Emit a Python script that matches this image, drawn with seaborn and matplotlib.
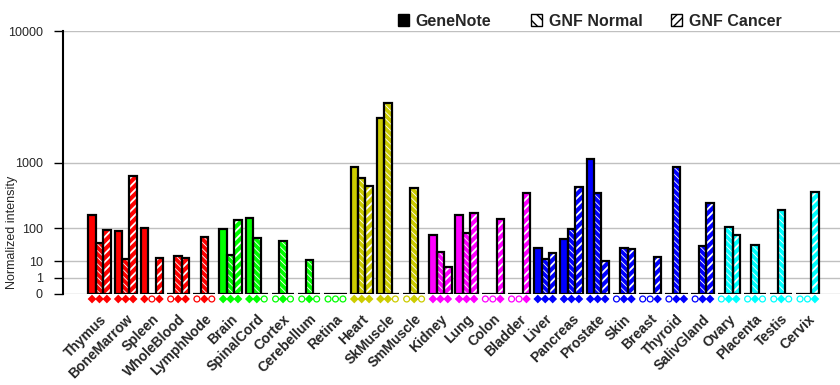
import numpy as np
import pandas as pd
import matplotlib
matplotlib.use("Agg")
import matplotlib.pyplot as plt
import matplotlib.transforms as mtransforms
from matplotlib.patches import Patch, Rectangle
import seaborn as sns

# ---- data ----
tissues = ["Thymus", "BoneMarrow", "Spleen", "WholeBlood", "LymphNode",
           "Brain", "SpinalCord", "Cortex", "Cerebellum", "Retina",
           "Heart", "SkMuscle", "SmMuscle",
           "Kidney", "Lung", "Colon", "Bladder",
           "Liver", "Pancreas", "Prostate", "Skin", "Breast", "Thyroid", "SalivGland",
           "Ovary", "Placenta", "Testis", "Cervix"]
system = (["blood"] * 5 + ["neural"] * 5 + ["muscle"] * 3 + ["visceral"] * 4
          + ["glandular"] * 7 + ["reproductive"] * 4)
series_names = ["GeneNote", "GNF Normal", "GNF Cancer"]

genenote = [184, 88, 101, 0, 0, 95, 162, 0, 0, 0, 893, 2630, 0, 69, 186, 0, 0,
            31.5, 55, 1087, 0, 0, 0, 0, 0, 0, 0, 0]
gnf_normal = [42, 12, 0, 16, 62, 18, 58, 49, 11.4, 0, 661, 3450, 482, 23, 80, 0, 0,
              12, 95, 419, 31.5, 0, 893, 35.5, 107, 38, 225, 0]
gnf_cancer = [92, 701, 13.7, 14, 0, 148, 0, 0, 0, 0, 522, 0, 0, 5.5, 198, 153, 419,
              20.6, 507, 10.6, 28, 15.4, 0, 297, 70, 0, 0, 429]

# present (1) / absent (0) calls shown as markers under the bars
genenote_call = [1, 1, 1, 0, 0, 1, 1, 0, 0, 0, 1, 1, 0, 1, 1, 0, 0,
                 1, 1, 1, 0, 0, 0, 0, 0, 0, 0, 0]
normal_call = [1, 1, 0, 1, 1, 1, 1, 1, 1, 0, 1, 1, 1, 1, 1, 0, 0,
               1, 1, 1, 1, 0, 1, 1, 1, 1, 1, 0]
cancer_call = [1, 1, 1, 1, 0, 1, 0, 0, 0, 0, 1, 0, 0, 1, 1, 1, 1,
               1, 1, 1, 1, 1, 1, 1, 1, 0, 0, 1]

yticks = [0, 1, 10, 100, 1000, 10000]

palette = {"blood": "#ff0000", "neural": "#00ff00", "muscle": "#cccc00",
           "visceral": "#ff00ff", "glandular": "#0000ff", "reproductive": "#00ffff"}

sns.set_style("white")
plt.rcParams["font.family"] = ["Liberation Sans", "DejaVu Sans"]
plt.rcParams["hatch.linewidth"] = 1.0

df = pd.DataFrame({
    "tissue": np.tile(tissues, 3),
    "series": np.repeat(series_names, len(tissues)),
    "value": np.concatenate([genenote, gnf_normal, gnf_cancer]),
})
calls = [genenote_call, normal_call, cancer_call]

fig = plt.figure(figsize=(8.4, 3.85), dpi=100)
ax = fig.add_axes([63 / 840, 1 - 294 / 385, 777 / 840, 263 / 385])

sns.barplot(data=df, x="tissue", y="value", hue="series", order=tissues,
            hue_order=series_names, width=0.85, gap=0, dodge=True, legend=False,
            errorbar=None, saturation=1, linewidth=0, ax=ax)

# power scale: each decade above 1 doubles in height
expo = np.log10(2)
ax.set_yscale("function", functions=(lambda v: np.sign(v) * np.abs(v) ** expo,
                                     lambda v: np.sign(v) * np.abs(v) ** (1 / expo)))
ax.set_ylim(0, 10000)
ax.set_xlim(-1.39, 28.24)

marker_tr = mtransforms.blended_transform_factory(ax.transData, ax.transAxes)
fill_x, fill_c, open_x, open_c = [], [], [], []
for p in list(ax.patches):
    w = p.get_width()
    xc = p.get_x() + w / 2
    cat = int(round(xc))
    slot = int(round((xc - cat) / w)) + 1
    col = palette[system[cat]]
    p.set_facecolor(col)
    p.set_linewidth(0)
    if slot == 1:
        p.set_edgecolor("white")
        p.set_hatch("\\" * 5)
        if hasattr(p, "set_hatch_linewidth"):
            p.set_hatch_linewidth(0.6)
    elif slot == 2:
        p.set_edgecolor("white")
        p.set_hatch("////")
        if hasattr(p, "set_hatch_linewidth"):
            p.set_hatch_linewidth(1.3)
    ax.add_patch(Rectangle((p.get_x(), p.get_y()), w, p.get_height(), fill=False,
                           edgecolor="black", linewidth=1.6, zorder=3))
    if calls[slot][cat]:
        fill_x.append(xc)
        fill_c.append(col)
    else:
        open_x.append(xc)
        open_c.append(col)

ax.scatter(fill_x, [-0.019] * len(fill_x), s=20, marker="D", c=fill_c,
           linewidths=0, transform=marker_tr, clip_on=False, zorder=4)
ax.scatter(open_x, [-0.019] * len(open_x), s=18, marker="o", facecolors="white",
           edgecolors=open_c, linewidths=0.9, transform=marker_tr, clip_on=False, zorder=4)

ax.set_axisbelow(True)
ax.yaxis.grid(True, color="#c0c0c0", linewidth=1)
ax.xaxis.grid(False)
ax.set_yticks(yticks)
ax.set_yticklabels([str(t) for t in yticks], fontsize=9)
ax.tick_params(axis="y", direction="out", length=6.5, width=1, pad=8, color="black", left=True)
ax.set_xticks(range(len(tissues)))
ax.set_xticklabels(tissues, rotation=45, ha="right", rotation_mode="anchor",
                   fontweight="bold", fontsize=10)
ax.tick_params(axis="x", length=0, pad=13)
ax.set_xlabel("")
ax.set_ylabel("Normalized intensity", fontsize=9)
ax.yaxis.set_label_coords(-0.058, 0.236)
for s in ["top", "right", "bottom"]:
    ax.spines[s].set_visible(False)
ax.spines["left"].set_linewidth(1.5)
ax.spines["left"].set_color("black")

handles = [Patch(facecolor="black", edgecolor="black"),
           Patch(facecolor="white", edgecolor="black", hatch="\\\\\\"),
           Patch(facecolor="white", edgecolor="black", hatch="////")]
for h, lab, xpx in zip(handles, series_names, [398, 531, 671]):
    fig.legend([h], [lab], loc="center left", bbox_to_anchor=(xpx / 840, 1 - 21 / 385),
               frameon=False, borderpad=0, borderaxespad=0, handlelength=0.7,
               handleheight=0.7, handletextpad=0.4, prop={"weight": "bold", "size": 11.5})

fig.savefig("out.png", dpi=100)
